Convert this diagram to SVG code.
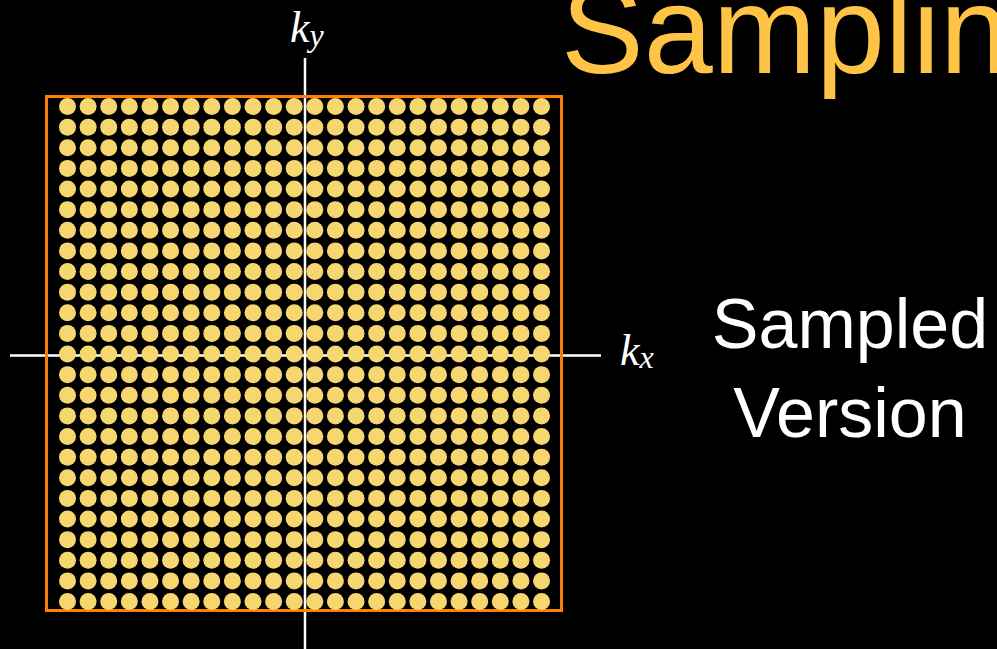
<svg xmlns="http://www.w3.org/2000/svg" xmlns:xlink="http://www.w3.org/1999/xlink" width="997" height="649" viewBox="0 0 997 649">
<style>
.axis{stroke:#FFFFFF;stroke-width:2.5;fill:none}
.frame{stroke:#FF7F00;stroke-width:3;fill:none}
.dot{fill:#F6D66E}
.math{font-family:"Liberation Serif","Times New Roman",serif;font-style:italic;fill:#FFFFFF}
.title{font-family:"Liberation Sans",Arial,sans-serif;fill:#FFC445}
.body{font-family:"Liberation Sans",Arial,sans-serif;fill:#FFFFFF;font-size:70px}
</style>
<defs>
<g id="row">
<circle class="dot" cx="67.5" cy="0" r="8.5"/><circle class="dot" cx="88.11" cy="0" r="8.5"/><circle class="dot" cx="108.72" cy="0" r="8.5"/><circle class="dot" cx="129.33" cy="0" r="8.5"/><circle class="dot" cx="149.94" cy="0" r="8.5"/><circle class="dot" cx="170.55" cy="0" r="8.5"/><circle class="dot" cx="191.16" cy="0" r="8.5"/><circle class="dot" cx="211.77" cy="0" r="8.5"/><circle class="dot" cx="232.38" cy="0" r="8.5"/><circle class="dot" cx="252.99" cy="0" r="8.5"/><circle class="dot" cx="273.6" cy="0" r="8.5"/><circle class="dot" cx="294.21" cy="0" r="8.5"/><circle class="dot" cx="314.82" cy="0" r="8.5"/><circle class="dot" cx="335.43" cy="0" r="8.5"/><circle class="dot" cx="356.04" cy="0" r="8.5"/><circle class="dot" cx="376.65" cy="0" r="8.5"/><circle class="dot" cx="397.26" cy="0" r="8.5"/><circle class="dot" cx="417.87" cy="0" r="8.5"/><circle class="dot" cx="438.48" cy="0" r="8.5"/><circle class="dot" cx="459.09" cy="0" r="8.5"/><circle class="dot" cx="479.7" cy="0" r="8.5"/><circle class="dot" cx="500.31" cy="0" r="8.5"/><circle class="dot" cx="520.92" cy="0" r="8.5"/><circle class="dot" cx="541.53" cy="0" r="8.5"/>
</g>
</defs>
<rect x="0" y="0" width="997" height="649" fill="#000000"/>
<g id="axes">
<line class="axis" x1="10" y1="355.5" x2="601" y2="355.5"/>
<line class="axis" x1="305" y1="58" x2="305" y2="649"/>
</g>
<g id="frame">
<rect class="frame" x="46.5" y="96.5" width="515" height="514"/>
</g>
<g id="samples">
<use xlink:href="#row" y="106.5"/><use xlink:href="#row" y="127.13"/><use xlink:href="#row" y="147.75"/><use xlink:href="#row" y="168.38"/><use xlink:href="#row" y="189"/><use xlink:href="#row" y="209.63"/><use xlink:href="#row" y="230.25"/><use xlink:href="#row" y="250.88"/><use xlink:href="#row" y="271.5"/><use xlink:href="#row" y="292.13"/><use xlink:href="#row" y="312.75"/><use xlink:href="#row" y="333.38"/><use xlink:href="#row" y="354"/><use xlink:href="#row" y="374.63"/><use xlink:href="#row" y="395.25"/><use xlink:href="#row" y="415.88"/><use xlink:href="#row" y="436.5"/><use xlink:href="#row" y="457.13"/><use xlink:href="#row" y="477.75"/><use xlink:href="#row" y="498.38"/><use xlink:href="#row" y="519"/><use xlink:href="#row" y="539.63"/><use xlink:href="#row" y="560.25"/><use xlink:href="#row" y="580.88"/><use xlink:href="#row" y="601.5"/>
</g>
<g id="label-ky">
<text class="math" x="290" y="42" font-size="44">k<tspan font-size="32" dy="4">y</tspan></text>
</g>
<g id="label-kx">
<text class="math" x="620" y="365" font-size="44">k<tspan font-size="32" dy="3">x</tspan></text>
</g>
<g id="title">
<text class="title" x="561" y="73" font-size="124">Sampling</text>
</g>
<g id="caption">
<text class="body" text-anchor="middle"><tspan x="850" y="348">Sampled</tspan><tspan x="850" y="437">Version</tspan></text>
</g>
</svg>
